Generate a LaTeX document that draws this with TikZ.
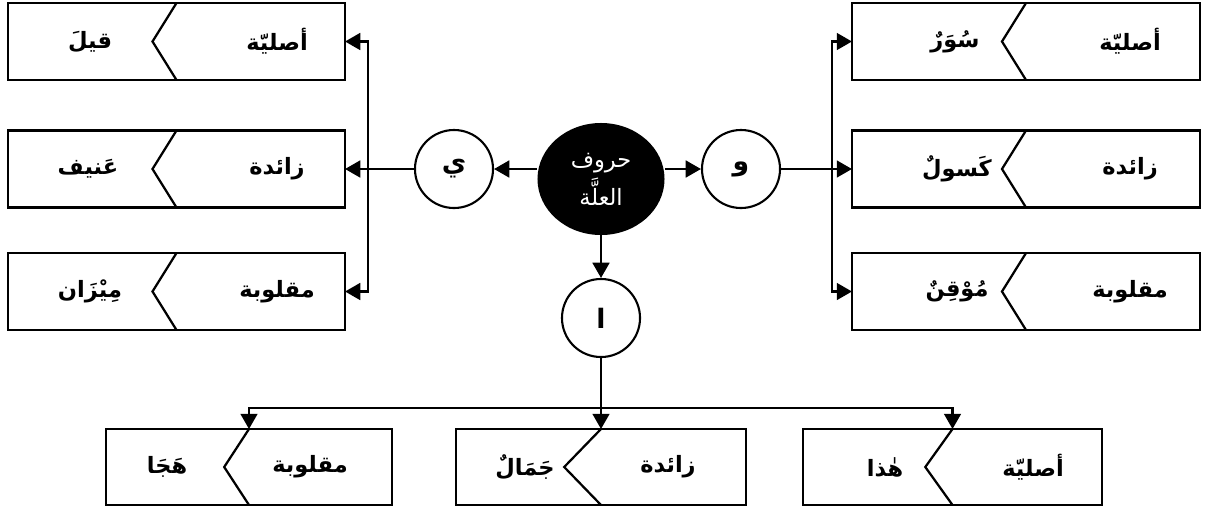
\documentclass[tikz,border=0pt]{standalone}
\usepackage{fontspec}
\newfontfamily\arabicfont[Script=Arabic]{DejaVu Sans}
\TeXXeTstate=1
\usetikzlibrary{arrows.meta,shapes.geometric}

\begin{document}
\begin{tikzpicture}[x=0.025cm,y=-0.025cm,
  catbox/.style={draw,line width=2pt,minimum height=1.925cm,outer sep=0pt,inner sep=0pt},
  word/.style={font=\fontsize{16}{20}\selectfont\arabicfont\bfseries},
  ring/.style={draw,circle,line width=1.5pt,minimum size=1.95cm,inner sep=0pt,font=\fontsize{19}{22}\selectfont\arabicfont\bfseries},
  link/.style={line width=1.6pt},
  arr/.style={link,-{Triangle[length=0.38cm,width=0.42cm]}},
  fold/.style={line width=1.6pt}]
\useasboundingbox (0,0) rectangle (1208,508);

\node[ellipse,fill=black,minimum width=3.175cm,minimum height=2.8cm,inner sep=0pt,text=white,align=center,font=\fontsize{16}{27}\selectfont\arabicfont] (illa) at (601,179) {\beginR حروف\endR\\\beginR العلَّة\endR};
\node[ring] (ya) at (454,169) {\beginR ي\endR};
\node[ring] (waw) at (741,169) {\beginR و\endR};
\node[ring] (alif) at (601,318) {\beginR ا\endR};

\node[catbox,minimum width=8.425cm] (lt) at (176.5,41.5) {};
\node[catbox,minimum width=8.425cm] (lm) at (176.5,169) {};
\node[catbox,minimum width=8.425cm] (lb) at (176.5,291.5) {};
\node[catbox,minimum width=8.7cm] (rt) at (1026,41.5) {};
\node[catbox,minimum width=8.7cm] (rm) at (1026,169) {};
\node[catbox,minimum width=8.7cm] (rb) at (1026,291.5) {};
\node[catbox,minimum width=7.15cm,minimum height=1.9cm] (bl) at (249,467) {};
\node[catbox,minimum width=7.25cm,minimum height=1.9cm] (bm) at (601,467) {};
\node[catbox,minimum width=7.475cm,minimum height=1.9cm] (br) at (952.5,467) {};
\foreach \b/\d in {lt/0.6,lm/0.6,lb/0.6,rt/0.6,rm/0.6,rb/0.6,bl/0.62,bm/0.92,br/0.68}
  \draw[fold] (\b.north) -- ([xshift=-\d cm]\b.center) -- (\b.south);

\node[word] (lt1) at (277,41.5) {\beginR أصليّة\endR};
\node[word] (lt2) at (90,41.5) {\beginR قيلَ\endR};
\node[word] (lm1) at (277,169) {\beginR زائدة\endR};
\node[word] (lm2) at (88,169) {\beginR عَنيف\endR};
\node[word] (lb1) at (277,291.5) {\beginR مقلوبة\endR};
\node[word] (lb2) at (90,291.5) {\beginR مِيْزَان\endR};
\node[word] (rt1) at (1130,41.5) {\beginR أصليّة\endR};
\node[word] (rt2) at (955,41.5) {\beginR سُوَرٌ\endR};
\node[word] (rm1) at (1130,169) {\beginR زائدة\endR};
\node[word] (rm2) at (957,169) {\beginR كَسولٌ\endR};
\node[word] (rb1) at (1130,291.5) {\beginR مقلوبة\endR};
\node[word] (rb2) at (957,291.5) {\beginR مُوْقِنٌ\endR};
\node[word] (bl1) at (310,467) {\beginR مقلوبة\endR};
\node[word] (bl2) at (167,467) {\beginR هَجَا\endR};
\node[word] (bm1) at (668,467) {\beginR زائدة\endR};
\node[word] (bm2) at (525,467) {\beginR جَمَالٌ\endR};
\node[word] (br1) at (1033,467) {\beginR أصليّة\endR};
\node[word] (br2) at (885,467) {\beginR هٰذا\endR};

\coordinate (lbus) at (368,169);
\coordinate (rbus) at (832,169);
\coordinate (bbus) at (601,408);

\draw[arr] (illa.west |- ya) -- (ya);
\draw[arr] (illa.east |- waw) -- (waw);
\draw[arr] (illa) -- (alif);
\draw[arr] (ya) -- (lm);
\draw[arr] (lbus) |- (lt.east);
\draw[arr] (lbus) |- (lb.east);
\draw[arr] (waw) -- (rm);
\draw[arr] (rbus) |- (rt.west);
\draw[arr] (rbus) |- (rb.west);
\draw[arr] (alif) -- (bm);
\draw[arr] (bbus) -| (bl.north);
\draw[arr] (bbus) -| (br.north);
\end{tikzpicture}
\end{document}
